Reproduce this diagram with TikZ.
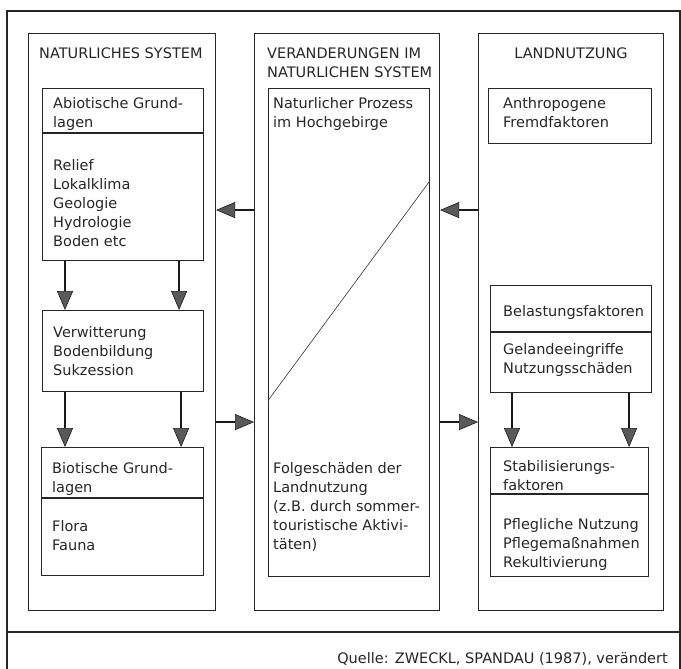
\documentclass[tikz,border=0pt]{standalone}
\usepackage{fontspec}
\setmainfont{DejaVu Sans}
\usepackage{tikz}
\usetikzlibrary{positioning,arrows.meta}
\tikzset{>={Triangle[length=19pt,width=16pt,line width=0.6pt,fill=black!65]}}

\begin{document}
\begin{tikzpicture}[
x=1pt, y=-1pt,
box/.style={rectangle, draw=black!85, line width=1.1pt, anchor=north west, inner sep=0pt},
txt/.style={align=left, inner sep=0pt, text=black!85, font=\fontsize{14.5}{19}\selectfont},
flow/.style={->, line width=2.2pt, draw=black!90},
]
\useasboundingbox (0,0) rectangle (681,669);

%Frame
\draw[black!85, line width=1.1pt] (7,669) -- (7,11) -- (680,11) -- (680,669);
\draw[black!85, line width=1.1pt] (7,632) -- (680,632);

%Columns
\node[box, minimum width=187pt, minimum height=577pt](Natur) at (28,33){};
\node[box, minimum width=185pt, minimum height=577pt](Veraenderung) at (254,33){};
\node[box, minimum width=185pt, minimum height=577pt](Landnutzung) at (478,33){};

%Boxes
\node[box, minimum width=161pt, minimum height=172pt](Abiotisch) at (42,88){};
\node[box, minimum width=161pt, minimum height=81pt](Verwitterung) at (42,310){};
\node[box, minimum width=162pt, minimum height=128pt](Biotisch) at (41,447){};
\node[box, minimum width=161pt, minimum height=488pt](Prozess) at (268,88){};
\node[box, minimum width=163pt, minimum height=55pt](Anthropogen) at (488,88){};
\node[box, minimum width=161pt, minimum height=107pt](Belastung) at (490,285){};
\node[box, minimum width=158pt, minimum height=129pt](Stabilisierung) at (490,447){};

%Dividers
\draw[black!85, line width=1.1pt] ([yshift=-45pt]Abiotisch.north west) -- ([yshift=-45pt]Abiotisch.north east);
\draw[black!85, line width=1.1pt] ([yshift=-51pt]Biotisch.north west) -- ([yshift=-51pt]Biotisch.north east);
\draw[black!85, line width=1.1pt] ([yshift=-47pt]Belastung.north west) -- ([yshift=-47pt]Belastung.north east);
\draw[black!85, line width=1.1pt] ([yshift=-47pt]Stabilisierung.north west) -- ([yshift=-47pt]Stabilisierung.north east);
\draw[black!80, line width=0.6pt] ([yshift=-68pt]Prozess.west) -- ([yshift=152pt]Prozess.east);

%Texts
\node[txt, below right=15pt and 11pt of Natur.north west](NaturTitel){NATURLICHES SYSTEM};
\node[txt, below right=15pt and 13pt of Veraenderung.north west](VeraenderungTitel){VERANDERUNGEN IM\\NATURLICHEN SYSTEM};
\node[txt, anchor=north, below=15pt of Landnutzung.north](LandnutzungTitel){LANDNUTZUNG};

\node[txt, below right=9pt and 11pt of Abiotisch.north west](AbiotischKopf){Abiotische Grund-\\lagen};
\node[txt, below right=71pt and 11pt of Abiotisch.north west](AbiotischText){Relief\\Lokalklima\\Geologie\\Hydrologie\\Boden etc};
\node[txt, below right=16pt and 11pt of Verwitterung.north west](VerwitterungText){Verwitterung\\Bodenbildung\\Sukzession};
\node[txt, below right=15pt and 11pt of Biotisch.north west](BiotischKopf){Biotische Grund-\\lagen};
\node[txt, below right=73pt and 11pt of Biotisch.north west](BiotischText){Flora\\Fauna};

\node[txt, below right=9pt and 5pt of Prozess.north west](ProzessKopf){Naturlicher Prozess\\im Hochgebirge};
\node[txt, below right=374pt and 5pt of Prozess.north west](ProzessText){Folgeschäden der\\Landnutzung\\(z.B. durch sommer-\\touristische Aktivi-\\täten)};

\node[txt, below right=9pt and 15pt of Anthropogen.north west](AnthropogenText){Anthropogene\\Fremdfaktoren};
\node[txt, below right=20pt and 13pt of Belastung.north west](BelastungKopf){Belastungsfaktoren};
\node[txt, below right=58pt and 13pt of Belastung.north west](BelastungText){Gelandeeingriffe\\Nutzungsschäden};
\node[txt, below right=13pt and 13pt of Stabilisierung.north west](StabilisierungKopf){Stabilisierungs-\\faktoren};
\node[txt, below right=71pt and 13pt of Stabilisierung.north west](StabilisierungText){Pflegliche Nutzung\\Pflegemaßnahmen\\Rekultivierung};

\node[txt, anchor=base east](Quelle) at (668,663){Quelle: ZWECKL, SPANDAU (1987), verändert};

%Lines
\draw[flow] ([xshift=23pt]Abiotisch.south west) -- ([xshift=23pt]Verwitterung.north west);
\draw[flow] ([xshift=-25pt]Abiotisch.south east) -- ([xshift=-25pt]Verwitterung.north east);
\draw[flow] ([xshift=23pt]Verwitterung.south west) -- ([xshift=24pt]Biotisch.north west);
\draw[flow] ([xshift=-23pt]Verwitterung.south east) -- ([xshift=-23pt]Biotisch.north east);
\draw[flow] ([xshift=22pt]Belastung.south west) -- ([xshift=22pt]Stabilisierung.north west);
\draw[flow] ([xshift=-23pt]Belastung.south east) -- ([xshift=-20pt]Stabilisierung.north east);

\draw[flow] ([yshift=112pt]Veraenderung.west) -- ([yshift=112pt]Natur.east);
\draw[flow] ([yshift=112pt]Landnutzung.west) -- ([yshift=112pt]Veraenderung.east);
\draw[flow] ([yshift=-100pt]Natur.east) -- ([yshift=-100pt]Veraenderung.west);
\draw[flow] ([yshift=-100pt]Veraenderung.east) -- ([yshift=-100pt]Landnutzung.west);
\end{tikzpicture}
\end{document}
